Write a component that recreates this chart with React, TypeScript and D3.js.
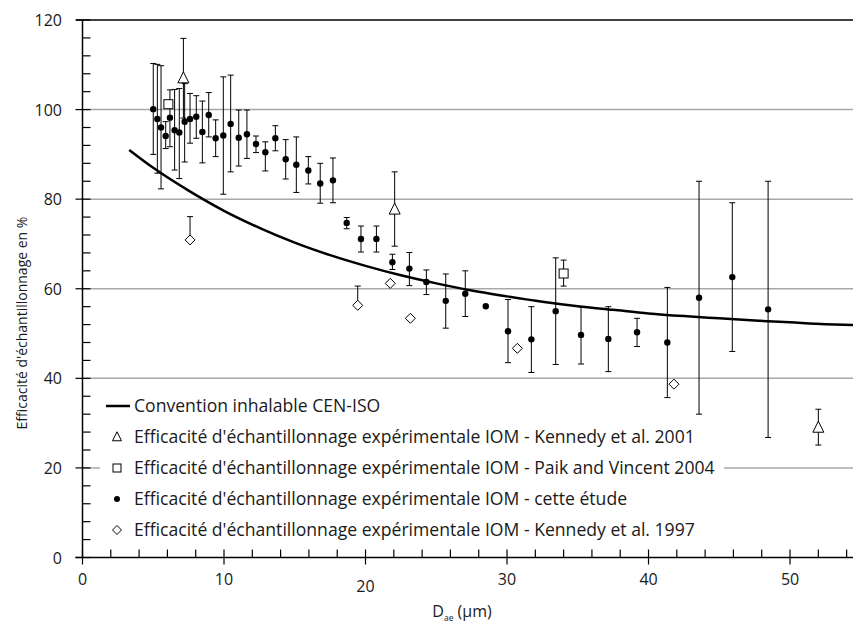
import React from 'react';
import * as d3 from 'd3';

// Convention inhalable CEN-ISO
const curveD = [3.3, 5, 7.5, 10, 12.5, 15, 17.5, 20, 22.5, 25, 27.5, 30, 32.5, 35, 37.5, 40, 42.5, 45, 47.5, 50, 52.5, 54.5];
const curveE = [91.0, 87.0, 81.9, 77.4, 73.6, 70.3, 67.5, 65.1, 63.0, 61.2, 59.6, 58.3, 57.1, 56.1, 55.3, 54.5, 53.9, 53.4, 52.9, 52.5, 52.1, 51.9];

// IOM - cette étude
const studyD = [5.0, 5.29, 5.55, 5.88, 6.18, 6.51, 6.84, 7.22, 7.6, 8.04, 8.47, 8.92, 9.41, 9.95, 10.47, 11.04, 11.62, 12.26, 12.92, 13.63, 14.36, 15.11, 15.96, 16.8, 17.7, 18.67, 19.68, 20.77, 21.9, 23.1, 24.3, 25.67, 27.05, 28.5, 30.07, 31.72, 33.44, 35.23, 37.16, 39.19, 41.33, 43.57, 45.92, 48.45];
const studyE = [100.1, 97.9, 96.0, 94.1, 98.2, 95.4, 94.9, 97.3, 97.9, 98.4, 95.0, 98.8, 93.6, 94.2, 96.8, 93.7, 94.5, 92.3, 90.5, 93.6, 88.9, 87.7, 86.4, 83.5, 84.2, 74.7, 71.1, 71.1, 65.9, 64.5, 61.5, 57.3, 58.9, 56.1, 50.5, 48.7, 55.0, 49.7, 48.8, 50.3, 48.0, 58.0, 62.6, 55.4];
const studyLo = [90.0, 85.8, 82.3, 91.3, 91.7, 86.5, 84.6, 88.3, 92.5, 93.6, 88.1, 93.9, 89.5, 81.1, 86.1, 87.4, 89.1, 90.4, 86.3, 90.8, 84.5, 81.5, 83.4, 79.1, 79.2, 73.4, 68.2, 68.2, 64.3, 60.7, 58.7, 51.2, 53.8, NaN, 43.5, 41.3, 43.1, 43.2, 41.5, 47.1, 35.7, 32.0, 46.0, 26.8];
const studyHi = [110.3, 110.1, 109.8, 97.3, 104.4, 104.5, 104.7, 105.8, 103.6, 103.1, 101.9, 103.8, 97.7, 107.3, 107.7, 99.9, 99.9, 94.1, 92.8, 96.4, 93.3, 93.9, 89.5, 88.0, 89.2, 75.9, 74.0, 74.0, 67.7, 68.1, 64.2, 63.3, 64.0, NaN, 57.6, 56.0, 66.9, 56.0, 56.0, 53.4, 60.3, 84.0, 79.2, 84.0];

// IOM - Kennedy et al. 2001
const k2001D = [7.13, 22.06, 52.0];
const k2001E = [107.0, 77.7, 29.0];
const k2001Lo = [98.1, 69.5, 25.1];
const k2001Hi = [115.9, 86.1, 33.1];

// IOM - Paik and Vincent 2004
const paikD = [6.07, 34.0];
const paikE = [101.2, 63.4];
const paikLo = [NaN, 60.6];
const paikHi = [NaN, 66.4];

// IOM - Kennedy et al. 1997 (upper bar only)
const k1997D = [7.6, 19.45, 21.75, 23.17, 30.73, 41.8];
const k1997E = [70.9, 56.3, 61.2, 53.4, 46.7, 38.7];
const k1997Hi = [76.1, 60.6, NaN, NaN, NaN, NaN];

const yTicks = [0, 20, 40, 60, 80, 100, 120];
const xTicks = [0, 10, 20, 30, 40, 50];
const gridValues = [20, 40, 60, 80, 100];

const legendLabels = [
  'Convention inhalable CEN-ISO',
  "Efficacité d'échantillonnage expérimentale IOM - Kennedy et al. 2001",
  "Efficacité d'échantillonnage expérimentale IOM - Paik and Vincent 2004",
  "Efficacité d'échantillonnage expérimentale IOM - cette étude",
  "Efficacité d'échantillonnage expérimentale IOM - Kennedy et al. 1997",
];

const W = 853;
const H = 622;
const FONT = '"Open Sans", Roboto, "DejaVu Sans", sans-serif';
const TXT = '#1a1a1a';

const x = d3.scaleLinear().domain([0, 54.45]).range([82.5, 853]);
const y = d3.scaleLinear().domain([0, 120]).range([557.5, 20]);

// error bar with optional caps; NaN means no bar on that side
const ErrBar = ({ cx, v, lo, hi }: { cx: number; v: number; lo: number; hi: number }) => {
  const top = isNaN(hi) ? y(v) : y(hi);
  const bot = isNaN(lo) ? y(v) : y(lo);
  if (isNaN(hi) && isNaN(lo)) return null;
  return (
    <g stroke="#000" strokeWidth={1}>
      <line x1={cx} x2={cx} y1={top} y2={bot} />
      {!isNaN(hi) && <line x1={cx - 3} x2={cx + 3} y1={top} y2={top} />}
      {!isNaN(lo) && <line x1={cx - 3} x2={cx + 3} y1={bot} y2={bot} />}
    </g>
  );
};

const triPath = (cx: number, cy: number, s = 11) =>
  `M${cx},${cy - s * 0.58}L${cx + s / 2},${cy + s * 0.42}L${cx - s / 2},${cy + s * 0.42}Z`;
const diaPath = (cx: number, cy: number, s = 5) =>
  `M${cx},${cy - s}L${cx + s},${cy}L${cx},${cy + s}L${cx - s},${cy}Z`;

export default function App() {
  const line = d3
    .line<number>()
    .x((_, i) => x(curveD[i]))
    .y((d) => y(d))
    .curve(d3.curveMonotoneX);

  const xMinor = d3.range(0, 55, 2).filter((v) => v % 10 !== 0);
  const yMinor = d3.range(0, 121, 4).filter((v) => v % 20 !== 0);

  const rows = [406, 437, 468, 499, 530];

  return (
    <svg
      width={W}
      height={H}
      style={{ position: 'absolute', left: 0, top: 0, background: '#fff' }}
      fontFamily={FONT}
    >
      <rect width={W} height={H} fill="#fff" />
      {/* grid */}
      {gridValues.map((v) => (
        <line key={v} x1={x(0)} x2={W} y1={y(v)} y2={y(v)} stroke="#a8a8a8" strokeWidth={1.5} />
      ))}
      {/* legend background hides grid */}
      <rect x={100} y={392} width={624} height={152} fill="#fff" />

      {/* axes */}
      <line x1={76} x2={W} y1={y(120)} y2={y(120)} stroke="#000" strokeWidth={1.5} />
      <line x1={x(0)} x2={x(0)} y1={y(0)} y2={y(120)} stroke="#000" strokeWidth={1.5} />
      <line x1={x(0) - 7} x2={W} y1={y(0)} y2={y(0)} stroke="#000" strokeWidth={1.5} />
      {yTicks.map((v) => (
        <g key={v}>
          <line x1={x(0) - 7} x2={x(0) + 8} y1={y(v)} y2={y(v)} stroke="#000" strokeWidth={1.2} />
          <text x={62} y={y(v) + 6} textAnchor="end" fontSize={16} fill={TXT}>
            {v}
          </text>
        </g>
      ))}
      {yMinor.map((v) => (
        <line key={v} x1={x(0)} x2={x(0) + 8} y1={y(v)} y2={y(v)} stroke="#000" strokeWidth={1.2} />
      ))}
      {xTicks.map((v) => (
        <g key={v}>
          <line x1={x(v)} x2={x(v)} y1={y(0) - 8} y2={y(0) + 7} stroke="#000" strokeWidth={1.2} />
          <text x={x(v)} y={v === 20 ? 592 : 585} textAnchor="middle" fontSize={16} fill={TXT}>
            {v}
          </text>
        </g>
      ))}
      {xMinor.map((v) => (
        <line key={v} x1={x(v)} x2={x(v)} y1={y(0) - 8} y2={y(0)} stroke="#000" strokeWidth={1.2} />
      ))}

      {/* axis titles */}
      <text
        transform="translate(27,323) rotate(-90)"
        textAnchor="middle"
        fontSize={14}
        fill={TXT}
      >
        Efficacité d'échantillonnage en %
      </text>
      <text x={462} y={617} textAnchor="middle" fontSize={16} fill={TXT}>
        D<tspan fontSize={8.5} dy={4}>ae</tspan>
        <tspan dy={-4}> (µm)</tspan>
      </text>

      {/* convention curve */}
      <path d={line(curveE) ?? ''} fill="none" stroke="#000" strokeWidth={2.5} />

      {/* Kennedy 1997 */}
      {k1997D.map((d, i) => (
        <g key={'k97' + i}>
          <ErrBar cx={x(d)} v={k1997E[i]} lo={NaN} hi={k1997Hi[i]} />
          <path d={diaPath(x(d), y(k1997E[i]))} fill="#fff" stroke="#000" strokeWidth={1} />
        </g>
      ))}

      {/* cette étude */}
      {studyD.map((d, i) => (
        <g key={'st' + i}>
          <ErrBar cx={x(d)} v={studyE[i]} lo={studyLo[i]} hi={studyHi[i]} />
          <circle cx={x(d)} cy={y(studyE[i])} r={3.2} fill="#000" />
        </g>
      ))}

      {/* Paik and Vincent 2004 */}
      {paikD.map((d, i) => (
        <g key={'pk' + i}>
          <ErrBar cx={x(d)} v={paikE[i]} lo={paikLo[i]} hi={paikHi[i]} />
          <rect x={x(d) - 4.5} y={y(paikE[i]) - 4.5} width={9} height={9} fill="#fff" stroke="#000" strokeWidth={1} />
        </g>
      ))}

      {/* Kennedy 2001 */}
      {k2001D.map((d, i) => (
        <g key={'k01' + i}>
          <ErrBar cx={x(d)} v={k2001E[i]} lo={k2001Lo[i]} hi={k2001Hi[i]} />
          <path d={triPath(x(d), y(k2001E[i]))} fill="#fff" stroke="#000" strokeWidth={1} />
        </g>
      ))}

      {/* legend */}
      <g fontSize={17.6} fill={TXT}>
        <line x1={106} x2={130} y1={rows[0]} y2={rows[0]} stroke="#000" strokeWidth={2.5} />
        <path d={triPath(117, rows[1], 9)} fill="#fff" stroke="#000" strokeWidth={1} />
        <rect x={113} y={rows[2] - 4} width={8} height={8} fill="#fff" stroke="#000" strokeWidth={1} />
        <circle cx={117} cy={rows[3]} r={3} fill="#000" />
        <path d={diaPath(117, rows[4], 4.5)} fill="#fff" stroke="#000" strokeWidth={1} />
        {legendLabels.map((t, i) => (
          <text key={i} x={134} y={rows[i] + 6}>
            {t}
          </text>
        ))}
      </g>
    </svg>
  );
}
